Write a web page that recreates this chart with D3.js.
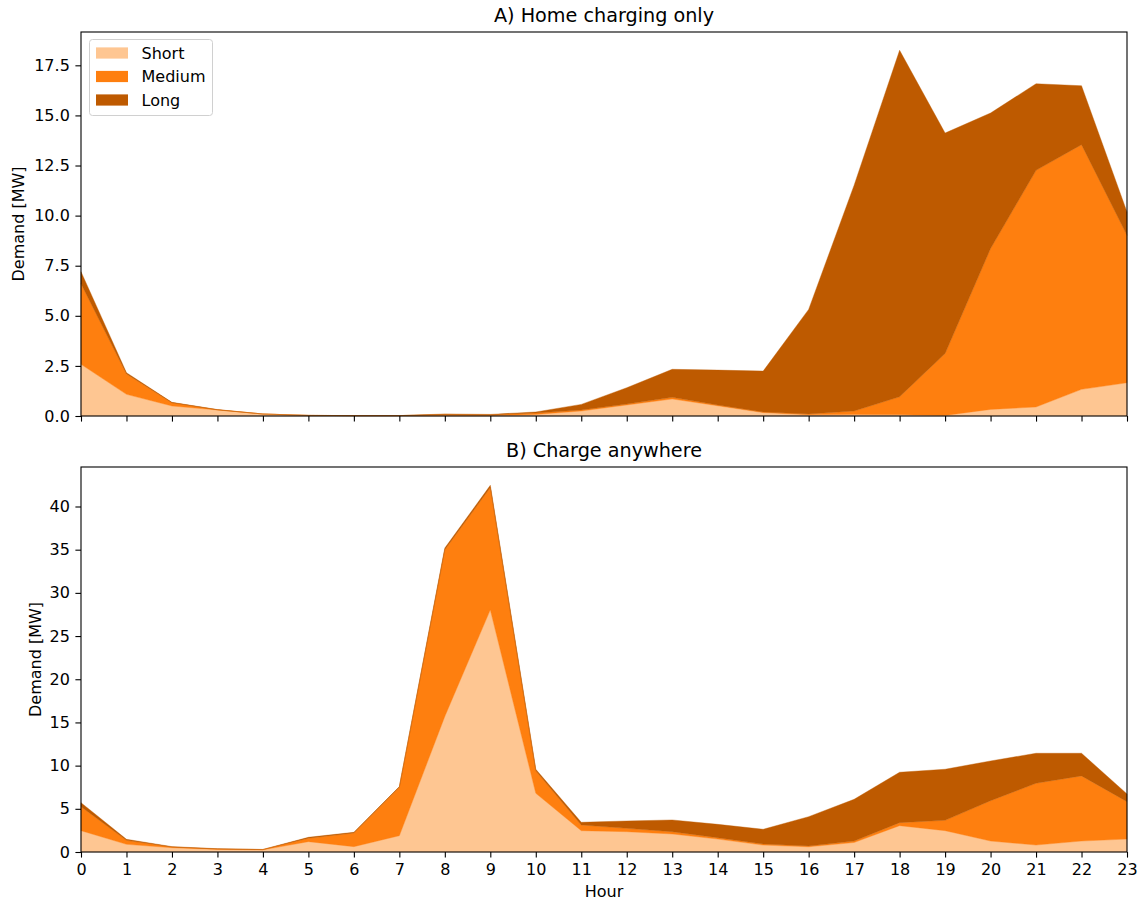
<!DOCTYPE html>
<html>
<head>
<meta charset="utf-8">
<script src="https://cdn.jsdelivr.net/npm/d3@7"></script>
<style>
  html, body { margin: 0; padding: 0; background: #fff; }
  svg { display: block; font-family: "DejaVu Sans", sans-serif; }
</style>
</head>
<body>
<svg id="chart" width="1142" height="905"></svg>
<script>
// Hourly charging demand [MW] per trip-length group
const hours = d3.range(0, 24);
const seriesNames = ["Short", "Medium", "Long"];
const seriesColors = ["#fec692", "#fe7f0f", "#be5a00"];

// A) Home charging only
const homeShort  = [2.58, 1.08, 0.50, 0.30, 0.10, 0.03, 0.02, 0.02, 0.02, 0.02, 0.08, 0.25, 0.55, 0.85, 0.51, 0.17, 0.06, 0.08, 0.06, 0.03, 0.33, 0.45, 1.33, 1.66];
const homeMedium = [4.02, 1.02, 0.16, 0.01, 0.00, 0.00, 0.00, 0.00, 0.06, 0.04, 0.07, 0.05, 0.05, 0.08, 0.04, 0.03, 0.04, 0.17, 0.90, 3.09, 8.03, 11.81, 12.21, 7.36];
const homeLong   = [0.60, 0.06, 0.02, 0.01, 0.00, 0.00, 0.00, 0.00, 0.02, 0.02, 0.05, 0.28, 0.81, 1.40, 1.74, 2.04, 5.22, 11.27, 17.29, 11.00, 6.76, 4.32, 2.94, 1.16];

// B) Charge anywhere
const anyShort  = [2.47, 0.89, 0.50, 0.30, 0.25, 1.20, 0.62, 1.89, 15.70, 28.04, 6.80, 2.47, 2.35, 2.09, 1.50, 0.80, 0.60, 1.10, 3.05, 2.47, 1.27, 0.81, 1.27, 1.50];
const anyMedium = [2.78, 0.46, 0.08, 0.05, 0.03, 0.40, 1.58, 5.61, 19.30, 14.16, 2.60, 0.66, 0.39, 0.26, 0.16, 0.13, 0.10, 0.17, 0.35, 1.20, 4.67, 7.15, 7.54, 4.33];
const anyLong   = [0.46, 0.12, 0.04, 0.03, 0.02, 0.10, 0.08, 0.07, 0.19, 0.25, 0.18, 0.31, 0.85, 1.36, 1.54, 1.70, 3.39, 4.83, 5.83, 5.91, 4.60, 3.47, 2.62, 0.89];

const homeTicks = [0, 2.5, 5, 7.5, 10, 12.5, 15, 17.5];
const anyTicks  = [0, 5, 10, 15, 20, 25, 30, 35, 40];

const svg = d3.select("#chart");
const left = 81, right = 1127;
const FS = 16;

function rows(s, m, l) {
  return hours.map((h, i) => ({ hour: h, Short: s[i], Medium: m[i], Long: l[i] }));
}

function panel(opts) {
  const { top, bottom, data, ticks, fmt, title, showXLabels, ylabelX, legend } = opts;
  const g = svg.append("g");

  const stacked = d3.stack().keys(seriesNames)(data);
  const maxTotal = d3.max(stacked[stacked.length - 1], d => d[1]);

  const x = d3.scaleLinear().domain([0, 23]).range([left, right]);
  const y = d3.scaleLinear().domain([0, maxTotal * 1.05]).range([bottom, top]);

  const area = d3.area()
    .x(d => x(d.data.hour))
    .y0(d => y(d[0]))
    .y1(d => y(d[1]));

  g.append("g").selectAll("path")
    .data(stacked)
    .join("path")
    .attr("d", area)
    .attr("fill", (d, i) => seriesColors[i])
    .attr("stroke", (d, i) => seriesColors[i])
    .attr("stroke-width", 0.4);

  // y axis
  const ya = g.append("g")
    .attr("transform", `translate(${left},0)`)
    .call(d3.axisLeft(y).tickValues(ticks).tickFormat(fmt).tickSize(5.6).tickPadding(5.6));
  ya.select(".domain").remove();
  ya.selectAll("line").attr("stroke", "#000").attr("stroke-width", 1.1);
  ya.selectAll("text").attr("font-size", FS).attr("fill", "#000")
    .attr("font-family", "DejaVu Sans");

  // x axis
  const xa = g.append("g")
    .attr("transform", `translate(0,${bottom})`)
    .call(d3.axisBottom(x).tickValues(hours)
      .tickFormat(showXLabels ? d3.format("d") : () => "")
      .tickSize(5.6).tickPadding(5.6));
  xa.select(".domain").remove();
  xa.selectAll("line").attr("stroke", "#000").attr("stroke-width", 1.1);
  xa.selectAll("text").attr("font-size", FS).attr("fill", "#000")
    .attr("font-family", "DejaVu Sans");

  // frame
  g.append("rect")
    .attr("x", left).attr("y", top)
    .attr("width", right - left).attr("height", bottom - top)
    .attr("fill", "none").attr("stroke", "#000").attr("stroke-width", 1.1);

  // title
  g.append("text")
    .attr("x", (left + right) / 2).attr("y", top - 9.6)
    .attr("text-anchor", "middle")
    .attr("font-size", 19.2).attr("fill", "#000")
    .text(title);

  // y label
  g.append("text")
    .attr("transform", `translate(${ylabelX},${(top + bottom) / 2}) rotate(-90)`)
    .attr("text-anchor", "middle")
    .attr("font-size", FS).attr("fill", "#000")
    .text("Demand [MW]");

  if (showXLabels) {
    g.append("text")
      .attr("x", (left + right) / 2).attr("y", 896.5)
      .attr("text-anchor", "middle")
      .attr("font-size", FS).attr("fill", "#000")
      .text("Hour");
  }

  if (legend) {
    const lg = g.append("g").attr("transform", `translate(89.5,39.5)`);
    lg.append("rect")
      .attr("width", 123).attr("height", 76).attr("rx", 3)
      .attr("fill", "#fff").attr("fill-opacity", 0.8)
      .attr("stroke", "#d0d0d0").attr("stroke-width", 1);
    seriesNames.forEach((name, i) => {
      const cy = 13.5 + i * 23.5;
      lg.append("rect")
        .attr("x", 6.5).attr("y", cy - 5.6)
        .attr("width", 32).attr("height", 11.2)
        .attr("fill", seriesColors[i]);
      lg.append("text")
        .attr("x", 52).attr("y", cy).attr("dy", "0.36em")
        .attr("font-size", FS).attr("fill", "#000")
        .text(name);
    });
  }
}

panel({
  top: 32, bottom: 416,
  data: rows(homeShort, homeMedium, homeLong),
  ticks: homeTicks, fmt: d3.format(".1f"),
  title: "A) Home charging only",
  showXLabels: false, ylabelX: 24, legend: true
});

panel({
  top: 467, bottom: 852,
  data: rows(anyShort, anyMedium, anyLong),
  ticks: anyTicks, fmt: d3.format("d"),
  title: "B) Charge anywhere",
  showXLabels: true, ylabelX: 41, legend: false
});
</script>
</body>
</html>
